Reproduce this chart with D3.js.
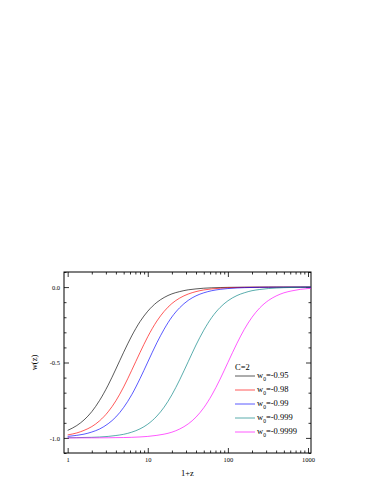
<!DOCTYPE html>
<html>
<head>
<meta charset="utf-8">
<title>w(z) vs 1+z</title>
<script src="https://cdn.jsdelivr.net/npm/d3@7"></script>
<style>
  html, body { margin: 0; padding: 0; background: #fff; }
  svg { display: block; }
  text { font-family: "Liberation Serif", "DejaVu Serif", serif; fill: #000; }
</style>
</head>
<body>
<svg id="chart" width="383" height="495"></svg>
<script>
// 1+z sample positions
var zs = [1, 1.3, 1.6, 2, 2.5, 3.2, 4, 5, 6.3, 8, 10, 13, 16, 20, 25, 32, 40, 50, 63, 80,
          100, 130, 160, 200, 250, 320, 400, 500, 630, 800, 1000, 1090];

// w(z) at the positions above
var w095 = [-0.950, -0.918, -0.881, -0.826, -0.752, -0.650, -0.543, -0.432, -0.324, -0.229,
            -0.160, -0.101, -0.069, -0.045, -0.030, -0.018, -0.012, -0.0075, -0.0048, -0.003,
            -0.0019, -0.0011, -0.0007, -0.0005, -0.0003, -0.0002, -0.0001, -0.0001, 0, 0, 0, 0];
var w098 = [-0.980, -0.967, -0.950, -0.925, -0.887, -0.827, -0.754, -0.662, -0.552, -0.434,
            -0.329, -0.225, -0.161, -0.109, -0.073, -0.046, -0.030, -0.019, -0.012, -0.0076,
            -0.0049, -0.0029, -0.0019, -0.0012, -0.0008, -0.0005, -0.0003, -0.0002, -0.0001, -0.0001, 0, 0];
var w099 = [-0.990, -0.983, -0.975, -0.961, -0.941, -0.906, -0.861, -0.798, -0.714, -0.607,
            -0.497, -0.369, -0.279, -0.198, -0.137, -0.088, -0.058, -0.038, -0.024, -0.015,
            -0.0098, -0.0058, -0.0039, -0.0025, -0.0016, -0.001, -0.0006, -0.0004, -0.0002, -0.0002, -0.0001, -0.0001];
var w0999 = [-0.999, -0.998, -0.997, -0.996, -0.994, -0.990, -0.984, -0.976, -0.962, -0.940,
             -0.909, -0.855, -0.796, -0.714, -0.615, -0.494, -0.384, -0.286, -0.201, -0.135,
             -0.091, -0.056, -0.038, -0.024, -0.016, -0.0097, -0.0062, -0.004, -0.0025, -0.0016, -0.001, -0.0008];
var w09999 = [-0.9999, -0.9998, -0.9997, -0.9996, -0.9994, -0.999, -0.998, -0.9975, -0.996, -0.9936,
              -0.990, -0.983, -0.975, -0.962, -0.941, -0.907, -0.862, -0.800, -0.716, -0.610,
              -0.500, -0.372, -0.281, -0.200, -0.138, -0.089, -0.059, -0.038, -0.025, -0.015, -0.0099, -0.0083];

var seriesValues = [w095, w098, w099, w0999, w09999];
var seriesLabels = ["-0.95", "-0.98", "-0.99", "-0.999", "-0.9999"];
var seriesColors = ["#000000", "#ff0000", "#0000ff", "#008080", "#ff00ff"];

var xMajor = [1, 10, 100, 1000];
var yMajor = [-1.0, -0.5, 0.0];
var yMinor = [-1.1, -0.9, -0.8, -0.7, -0.6, -0.4, -0.3, -0.2, -0.1, 0.1];

// plot box
var pLeft = 64, pRight = 311, pTop = 272, pBottom = 453;

var svg = d3.select("#chart");

var x = d3.scaleLog().domain([0.9, 1090]).range([pLeft, pRight]);
var y = d3.scaleLinear().domain([-1.1, 0.1]).range([pBottom, pTop]);

// minor ticks between decades
var xMinor = [];
[1, 10, 100].forEach(function (d) {
    for (var k = 2; k <= 9; k++) xMinor.push(d * k);
});

var fmtY = function (d) { return d.toFixed(1); };

function styleAxis(g) {
    g.select(".domain").remove();
    g.selectAll("line").attr("stroke", "#000").attr("stroke-width", 0.8);
    g.selectAll("text").attr("font-size", "6.5px")
        .attr("font-family", "Liberation Serif, serif");
}

// bottom
svg.append("g").attr("transform", "translate(0," + pBottom + ")")
    .call(d3.axisBottom(x).tickValues(xMajor).tickSize(-5).tickPadding(4).tickFormat(d3.format("d")))
    .call(styleAxis);
svg.append("g").attr("transform", "translate(0," + pBottom + ")")
    .call(d3.axisBottom(x).tickValues(xMinor).tickSize(-2.5).tickFormat(""))
    .call(styleAxis);
// top
svg.append("g").attr("transform", "translate(0," + pTop + ")")
    .call(d3.axisTop(x).tickValues(xMajor).tickSize(-5).tickFormat(""))
    .call(styleAxis);
svg.append("g").attr("transform", "translate(0," + pTop + ")")
    .call(d3.axisTop(x).tickValues(xMinor).tickSize(-2.5).tickFormat(""))
    .call(styleAxis);
// left
svg.append("g").attr("transform", "translate(" + pLeft + ",0)")
    .call(d3.axisLeft(y).tickValues(yMajor).tickSize(-5).tickPadding(4).tickFormat(fmtY))
    .call(styleAxis);
svg.append("g").attr("transform", "translate(" + pLeft + ",0)")
    .call(d3.axisLeft(y).tickValues(yMinor).tickSize(-2.5).tickFormat(""))
    .call(styleAxis);
// right
svg.append("g").attr("transform", "translate(" + pRight + ",0)")
    .call(d3.axisRight(y).tickValues(yMajor).tickSize(-5).tickFormat(""))
    .call(styleAxis);
svg.append("g").attr("transform", "translate(" + pRight + ",0)")
    .call(d3.axisRight(y).tickValues(yMinor).tickSize(-2.5).tickFormat(""))
    .call(styleAxis);

// frame
svg.append("rect")
    .attr("x", pLeft).attr("y", pTop)
    .attr("width", pRight - pLeft).attr("height", pBottom - pTop)
    .attr("fill", "none").attr("stroke", "#000").attr("stroke-width", 1);

// curves
var line = d3.line()
    .x(function (d) { return x(d[0]); })
    .y(function (d) { return y(d[1]); })
    .curve(d3.curveMonotoneX);

svg.append("defs").append("clipPath").attr("id", "clip")
    .append("rect").attr("x", pLeft).attr("y", pTop)
    .attr("width", pRight - pLeft).attr("height", pBottom - pTop);

svg.append("g").attr("clip-path", "url(#clip)")
    .selectAll("path")
    .data(seriesValues)
    .enter()
    .append("path")
    .attr("d", function (vals) { return line(zs.map(function (z, i) { return [z, vals[i]]; })); })
    .attr("fill", "none")
    .attr("stroke", function (d, i) { return seriesColors[i]; })
    .attr("stroke-width", 0.65);

// axis titles
svg.append("text")
    .attr("transform", "translate(34," + ((pTop + pBottom) / 2) + ") rotate(-90)")
    .attr("text-anchor", "middle").attr("dy", "0.35em")
    .attr("font-size", "8.5px")
    .text("w(z)");

svg.append("text")
    .attr("x", (pLeft + pRight) / 2).attr("y", 473)
    .attr("text-anchor", "middle").attr("dy", "0.35em")
    .attr("font-size", "8.5px")
    .text("1+z");

// legend
var legend = svg.append("g").attr("transform", "translate(235,0)");
legend.append("text")
    .attr("x", 0).attr("y", 367).attr("dy", "0.35em")
    .attr("font-size", "8.5px")
    .text("C=2");

var items = legend.selectAll("g.item")
    .data(seriesLabels)
    .enter()
    .append("g")
    .attr("class", "item")
    .attr("transform", function (d, i) { return "translate(0," + (376 + i * 14) + ")"; });

items.append("line")
    .attr("x1", 0).attr("x2", 20).attr("y1", 0).attr("y2", 0)
    .attr("stroke", function (d, i) { return seriesColors[i]; })
    .attr("stroke-width", 0.65);

var lt = items.append("text")
    .attr("x", 22).attr("y", 2)
    .attr("font-size", "8.5px");
lt.append("tspan").text("w");
lt.append("tspan").attr("font-size", "5.5px").attr("dy", 3).text("0");
lt.append("tspan").attr("dy", -3).text(function (d) { return "=" + d; });
</script>
</body>
</html>
